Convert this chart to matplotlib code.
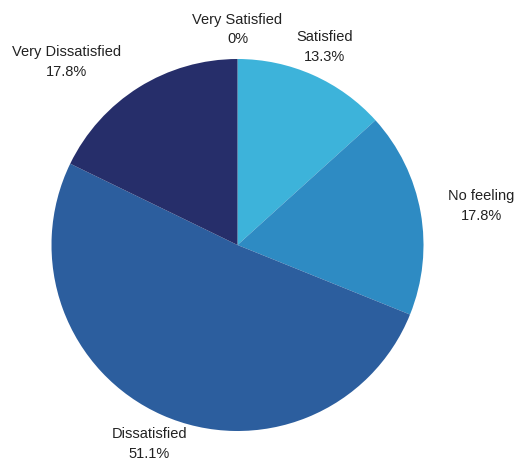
import matplotlib
matplotlib.use("Agg")
import matplotlib.pyplot as plt

labels = ["Very Satisfied", "Satisfied", "No feeling", "Dissatisfied", "Very Dissatisfied"]
values = [0, 13.3, 17.8, 51.1, 17.8]
pct_text = ["0%", "13.3%", "17.8%", "51.1%", "17.8%"]
colors = ["#5fc3e4", "#3db3da", "#2e8bc3", "#2c5e9e", "#262e6a"]

# label centres (in pie radius units, centre = 0,0)
label_pos = [(0.0, 1.165), (0.47, 1.07), (1.31, 0.215), (-0.475, -1.065), (-0.92, 0.99)]

plt.rcParams["font.family"] = ["Liberation Sans", "DejaVu Sans"]

fig = plt.figure(figsize=(5.17, 4.60), dpi=100)
r_px = 186
cx, cy = 237.5, 246
ax = fig.add_axes([(cx - r_px) / 517, (460 - cy - r_px) / 460, 2 * r_px / 517, 2 * r_px / 460])

ax.pie(values, colors=colors, startangle=90, counterclock=False, radius=1.0,
       wedgeprops=dict(linewidth=0))
ax.set_xlim(-1, 1)
ax.set_ylim(-1, 1)
ax.set_aspect("equal")
ax.axis("off")

for lab, pct, (x, y) in zip(labels, pct_text, label_pos):
    ax.text(x, y, lab + "\n" + pct, ha="center", va="center", fontsize=10.5,
            color="#222222", linespacing=1.5, clip_on=False)

fig.savefig("out.png", dpi=100)
